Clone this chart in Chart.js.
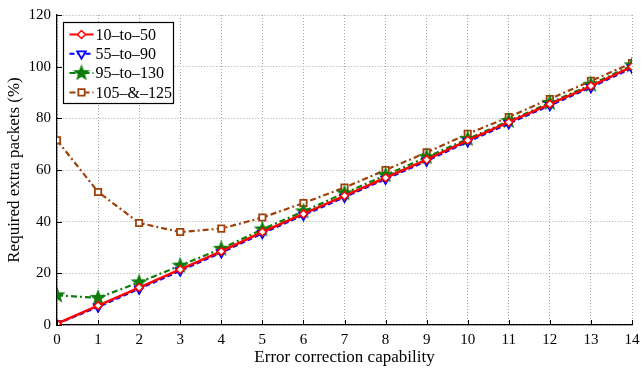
<!DOCTYPE html>
<html>
<head>
<meta charset="utf-8">
<script src="https://cdn.jsdelivr.net/npm/chart.js@4/dist/chart.umd.min.js"></script>
<style>
  html, body { margin: 0; padding: 0; background: #fff; }
  #wrap { width: 642px; height: 372px; }
</style>
</head>
<body>
<div id="wrap"><canvas id="c"></canvas></div>
<script>
// data
var capability = [0, 1, 2, 3, 4, 5, 6, 7, 8, 9, 10, 11, 12, 13, 14];
var s10to50  = [0.5, 7.5, 14.5, 21.5, 28.5, 36, 43, 50, 57, 64, 71.5, 78.5, 85.5, 92.5, 100];
var s55to90  = [0.5, 7, 14, 21, 28, 35.5, 42.5, 49.5, 56.5, 63.5, 71, 78, 85, 92, 99.5];
var s95to130 = [11.5, 10.5, 16.5, 23, 29.5, 37, 44, 51, 58, 65, 72, 79, 86, 93, 100.5];
var s105and125 = [71.5, 51.5, 39.5, 36, 37.3, 41.6, 47.2, 53.2, 60, 66.8, 74, 80.5, 87.5, 94.5, 101.4];
var yTicks = [0, 20, 40, 60, 80, 100, 120];

var FONT = '"Liberation Serif", "DejaVu Serif", serif';

// filled green star marker
function makeStar(color, r) {
  var c = document.createElement('canvas');
  c.width = c.height = r * 2 + 2;
  var g = c.getContext('2d');
  g.fillStyle = color;
  g.beginPath();
  for (var i = 0; i < 10; i++) {
    var a = -Math.PI / 2 + i * Math.PI / 5;
    var rr = (i % 2 === 0) ? r : r * 0.42;
    g.lineTo(r + 1 + rr * Math.cos(a), r + 1 + rr * Math.sin(a));
  }
  g.closePath();
  g.fill();
  return c;
}
var starImg = makeStar('#0a7d0a', 9);

function pts(arr) {
  return arr.map(function(v, i) { return { x: capability[i], y: v }; });
}

// legend box drawn inside the plot, plus inward ticks
var extras = {
  id: 'extras',
  afterDraw: function(chart) {
    var ctx = chart.ctx, a = chart.chartArea;
    var xs = chart.scales.x, ys = chart.scales.y;
    ctx.save();
    ctx.strokeStyle = '#000';
    ctx.lineWidth = 1;
    ctx.beginPath();
    capability.forEach(function(v) {
      var px = Math.round(xs.getPixelForValue(v)) + 0.5;
      ctx.moveTo(px, a.bottom); ctx.lineTo(px, a.bottom - 5);
    });
    yTicks.forEach(function(v) {
      var py = Math.round(ys.getPixelForValue(v)) + 0.5;
      ctx.moveTo(a.left, py); ctx.lineTo(a.left + 5, py);
    });
    ctx.stroke();

    // legend
    var bx = 63.5, by = 22.5, bw = 110, bh = 81;
    ctx.fillStyle = '#fff';
    ctx.fillRect(bx, by, bw, bh);
    ctx.strokeStyle = '#000';
    ctx.lineWidth = 1.2;
    ctx.strokeRect(bx, by, bw, bh);
    ctx.font = '16px ' + FONT;
    ctx.textBaseline = 'middle';
    chart.data.datasets.forEach(function(ds, i) {
      var cy = by + 12 + i * 19.3;
      ctx.save();
      ctx.strokeStyle = ds.borderColor;
      ctx.lineWidth = 2;
      ctx.setLineDash(ds.borderDash || []);
      ctx.beginPath();
      ctx.moveTo(bx + 6, cy); ctx.lineTo(bx + 30, cy);
      ctx.stroke();
      ctx.setLineDash([]);
      ctx.fillStyle = ds.pointBackgroundColor;
      ctx.strokeStyle = ds.borderColor;
      ctx.lineWidth = ds.pointBorderWidth;
      Chart.helpers.drawPoint(ctx, {
        pointStyle: ds.pointStyle, radius: ds.pointRadius,
        rotation: ds.pointRotation || 0, borderWidth: ds.pointBorderWidth
      }, bx + 18, cy);
      ctx.restore();
      ctx.fillStyle = '#000';
      ctx.fillText(ds.label, bx + 32, cy + 1);
    });
    ctx.restore();
  }
};

new Chart(document.getElementById('c'), {
  type: 'line',
  data: {
    datasets: [
      { label: '10\u2013to\u201350', data: pts(s10to50), borderColor: '#ff0000',
        borderWidth: 2.5, pointStyle: 'rectRot', pointRadius: 4,
        pointBackgroundColor: '#fff', pointBorderColor: '#ff0000', pointBorderWidth: 1.5 },
      { label: '55\u2013to\u201390', data: pts(s55to90), borderColor: '#0000ff',
        borderWidth: 2.2, borderDash: [5, 3], pointStyle: 'triangle', pointRotation: 180,
        pointRadius: 5, pointBackgroundColor: '#fff', pointBorderColor: '#0000ff', pointBorderWidth: 1.8 },
      { label: '95\u2013to\u2013130', data: pts(s95to130), borderColor: '#0a7d0a',
        borderWidth: 2.2, borderDash: [6, 3, 2, 3], pointStyle: starImg, pointRadius: 9,
        pointBackgroundColor: '#0a7d0a', pointBorderColor: '#0a7d0a', pointBorderWidth: 1 },
      { label: '105\u2013&\u2013125', data: pts(s105and125), borderColor: '#a0400a',
        borderWidth: 2.2, borderDash: [6, 3, 2, 3], pointStyle: 'rect', pointRadius: 4.5,
        pointBackgroundColor: '#fff', pointBorderColor: '#a0400a', pointBorderWidth: 1.8 }
    ]
  },
  options: {
    responsive: true,
    maintainAspectRatio: false,
    animation: false,
    layout: { padding: { top: 15, right: 6, left: 0, bottom: 0 } },
    plugins: { legend: { display: false }, tooltip: { enabled: false } },
    scales: {
      x: {
        type: 'linear', min: 0, max: 14,
        afterBuildTicks: function(s) { s.ticks = capability.map(function(v) { return { value: v }; }); },
        afterFit: function(s) { s.height = 47; s.paddingRight = 0; s.paddingLeft = 0; },
        grid: { color: '#a8a8a8', lineWidth: 1, drawTicks: false },
        border: { color: '#000', width: 1.3, dash: [1, 2] },
        ticks: { color: '#000', font: { family: FONT, size: 15 }, padding: 6, maxRotation: 0 },
        title: { display: true, text: 'Error correction capability', color: '#000',
                 font: { family: FONT, size: 17 }, padding: { top: 0 } }
      },
      y: {
        min: 0, max: 120,
        afterBuildTicks: function(s) { s.ticks = yTicks.map(function(v) { return { value: v }; }); },
        afterFit: function(s) { s.width = 57; },
        grid: { color: '#a8a8a8', lineWidth: 1, drawTicks: false },
        border: { color: '#000', width: 1.3, dash: [1, 2] },
        ticks: { color: '#000', font: { family: FONT, size: 15 }, padding: 6 },
        title: { display: true, text: 'Required extra packets (%)', color: '#000',
                 font: { family: FONT, size: 17 }, padding: { bottom: 2 } }
      }
    }
  },
  plugins: [extras]
});
</script>
</body>
</html>
